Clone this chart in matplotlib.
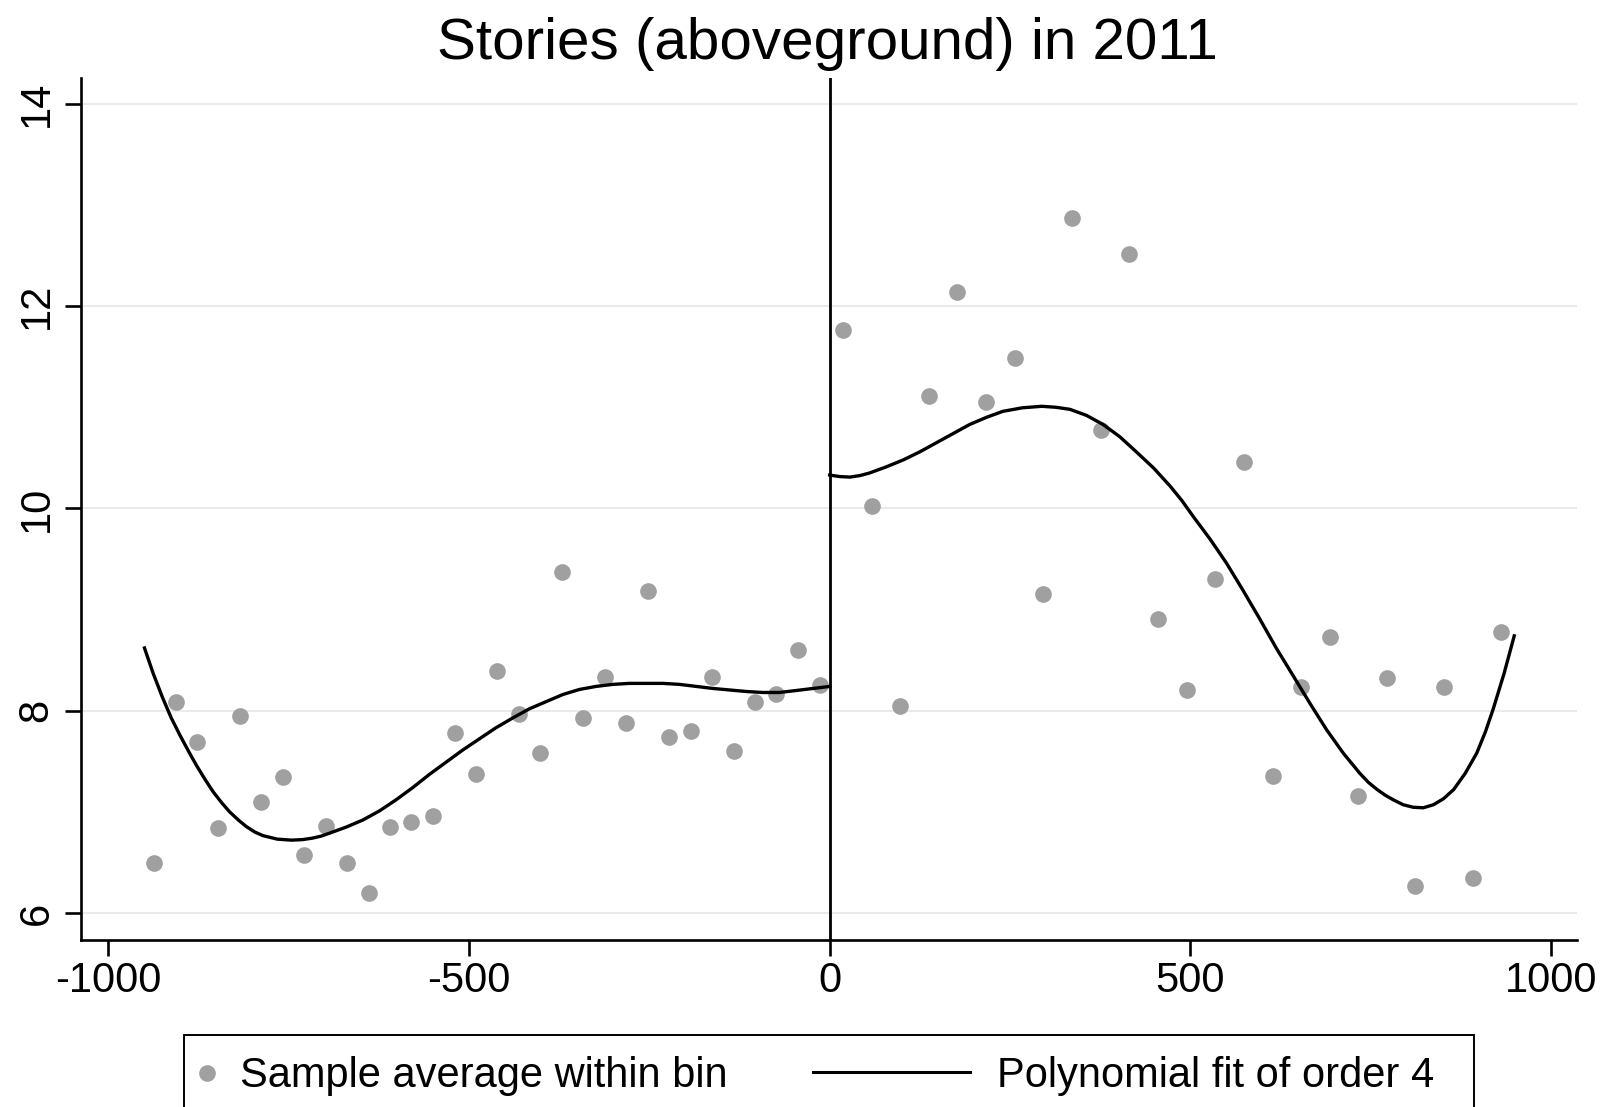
import matplotlib
matplotlib.use("Agg")
import matplotlib.pyplot as plt
from matplotlib.lines import Line2D
from matplotlib.patches import Rectangle

plt.rcParams["font.family"] = ["Liberation Sans", "DejaVu Sans"]

# bin averages, left and right of the cutoff
left_bin_x = [-937, -907, -877, -848, -818, -788, -758, -729, -699, -669, -639,
              -609, -580, -550, -520, -490, -461, -431, -401, -371, -342, -312,
              -282, -252, -223, -193, -163, -133, -103, -74, -44, -14]
left_bin_y = [6.49, 8.09, 7.69, 6.84, 7.95, 7.10, 7.34, 6.57, 6.86, 6.49, 6.20,
              6.85, 6.90, 6.96, 7.78, 7.37, 8.39, 7.97, 7.58, 9.37, 7.93, 8.33,
              7.88, 9.18, 7.74, 7.80, 8.33, 7.60, 8.09, 8.17, 8.60, 8.25]
right_bin_x = [18, 58, 98, 137, 177, 217, 257, 296, 336, 376, 415, 455,
               495, 534, 574, 614, 653, 693, 733, 772, 812, 852, 892, 931]
right_bin_y = [11.76, 10.02, 8.05, 11.11, 12.14, 11.05, 11.49, 9.15, 12.87,
               10.78, 12.52, 8.91, 8.20, 9.30, 10.46, 7.35, 8.23, 8.73, 7.16,
               8.32, 6.27, 8.23, 6.35, 8.78]

# fitted 4th order polynomial on each side
left_fit_x = [-950, -938, -925, -913, -901, -889, -878, -866, -855, -843, -832,
              -820, -809, -797, -786, -766, -746, -731, -717, -705, -693, -670,
              -647, -624, -601, -578, -555, -532, -509, -486, -463, -439, -416,
              -393, -370, -347, -324, -301, -278, -254, -231, -208, -185, -162,
              -139, -116, -93, -70, -46, -23, 0]
left_fit_y = [8.62, 8.37, 8.13, 7.93, 7.76, 7.60, 7.46, 7.32, 7.20, 7.09, 7.00,
              6.92, 6.855, 6.80, 6.765, 6.73, 6.72, 6.725, 6.74, 6.76, 6.79, 6.85,
              6.92, 7.01, 7.12, 7.24, 7.37, 7.49, 7.61, 7.72, 7.83, 7.93, 8.02,
              8.09, 8.16, 8.21, 8.24, 8.26, 8.27, 8.27, 8.27, 8.26, 8.24, 8.22,
              8.205, 8.19, 8.18, 8.18, 8.20, 8.22, 8.24]
right_fit_x = [0, 14, 28, 42, 55, 78, 102, 125, 148, 171, 194, 217, 240, 267,
               294, 314, 333, 356, 379, 402, 425, 449, 472, 488, 504, 527, 550,
               573, 596, 619, 643, 666, 689, 712, 735, 747, 759, 770, 781, 795,
               809, 823, 837, 851, 865, 881, 897, 909, 920, 935, 949]
right_fit_y = [10.33, 10.315, 10.31, 10.325, 10.35, 10.41, 10.48, 10.56, 10.65,
               10.74, 10.83, 10.90, 10.96, 10.995, 11.01, 11.00, 10.98, 10.92,
               10.83, 10.71, 10.56, 10.40, 10.22, 10.08, 9.92, 9.70, 9.46, 9.19,
               8.91, 8.62, 8.34, 8.07, 7.81, 7.58, 7.38, 7.29, 7.22, 7.165, 7.12,
               7.07, 7.045, 7.04, 7.07, 7.13, 7.22, 7.38, 7.58, 7.79, 8.02, 8.37,
               8.74]

xticks = [-1000, -500, 0, 500, 1000]
yticks = [6, 8, 10, 12, 14]

DOT = "#a0a0a0"

fig = plt.figure(figsize=(16.01, 11.07), dpi=100)
ax = fig.add_axes([0.0506, 0.1509, 0.9344, 0.7787])

ax.scatter(left_bin_x, left_bin_y, s=144, color=DOT, linewidths=0, zorder=3)
ax.scatter(right_bin_x, right_bin_y, s=144, color=DOT, linewidths=0, zorder=3)
ax.plot(left_fit_x, left_fit_y, color="black", lw=2.4, zorder=4,
        solid_joinstyle="round")
ax.plot(right_fit_x, right_fit_y, color="black", lw=2.4, zorder=4,
        solid_joinstyle="round")
ax.axvline(0, color="black", lw=2.0, zorder=4)

ax.set_xlim(-1038, 1036)
ax.set_ylim(5.733, 14.257)
ax.set_xticks(xticks)
ax.set_xticklabels([str(v) for v in xticks])
ax.set_yticks(yticks)
ax.set_yticklabels([str(v) for v in yticks], rotation=90, va="center")
ax.yaxis.grid(True, color="#eaeaea", lw=1.5)
ax.set_axisbelow(True)

for side in ["top", "right"]:
    ax.spines[side].set_visible(False)
for side in ["left", "bottom"]:
    ax.spines[side].set_linewidth(1.9)
ax.tick_params(length=11.5, width=1.9, labelsize=30)
ax.tick_params(axis="x", pad=4)
ax.tick_params(axis="y", pad=6)

fig.text(0.517, 1 - 59 / 1107, "Stories (aboveground) in 2011",
         ha="center", va="baseline", fontsize=42)

# legend box along the bottom edge
fig.add_artist(Rectangle((184 / 1601, -0.05), (1474 - 184) / 1601, 0.05 + 1 - 1035 / 1107,
                         transform=fig.transFigure, facecolor="white",
                         edgecolor="black", lw=1.4, clip_on=False))
fig.add_artist(Line2D([207 / 1601], [1 - 1073 / 1107], marker="o", markersize=12,
                      color=DOT, markeredgewidth=0, linestyle="none",
                      transform=fig.transFigure))
fig.add_artist(Line2D([813 / 1601, 970 / 1601], [1 - 1072 / 1107] * 2,
                      color="black", lw=2.2, transform=fig.transFigure))
fig.text(240 / 1601, 1 - 1087 / 1107, "Sample average within bin",
         ha="left", va="baseline", fontsize=30)
fig.text(997 / 1601, 1 - 1087 / 1107, "Polynomial fit of order 4",
         ha="left", va="baseline", fontsize=30)

fig.savefig("out.png", dpi=100)
